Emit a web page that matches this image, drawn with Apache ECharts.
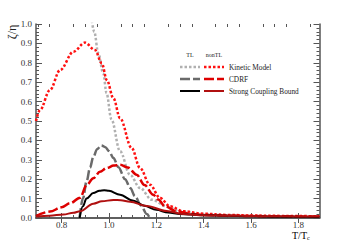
<!DOCTYPE html>
<html><head><meta charset="utf-8">
<script src="https://cdn.jsdelivr.net/npm/echarts@6/dist/echarts.min.js"></script>
<style>html,body{margin:0;padding:0;background:#fff}#c{width:355px;height:243px}</style>
</head><body><div id="c"></div>
<script>
// ---- data (T/Tc, zeta/eta) ----
const kineticTL = [[0.925,1.04],[0.938,0.96],[0.955,0.849],[0.976,0.746],[0.99,0.643],[1.01,0.51],[1.047,0.344],[1.089,0.223],[1.131,0.155],[1.181,0.094],[1.244,0.06],[1.3,0.034],[1.4,0.02],[1.5,0.014],[1.6,0.011],[1.7,0.009],[1.8,0.008],[1.889,0.007]];
const kineticNonTL = [[0.692,0.5],[0.709,0.557],[0.751,0.66],[0.794,0.763],[0.85,0.857],[0.899,0.904],[0.941,0.866],[0.970,0.797],[0.991,0.711],[1.019,0.617],[1.047,0.514],[1.096,0.361],[1.131,0.258],[1.173,0.172],[1.216,0.103],[1.258,0.06],[1.314,0.035],[1.4,0.022],[1.5,0.016],[1.6,0.013],[1.7,0.011],[1.8,0.01],[1.889,0.009]];
const cdrfTL = [[0.876,0],[0.89,0.1],[0.906,0.19],[0.92,0.26],[0.934,0.315],[0.95,0.355],[0.968,0.374],[0.985,0.365],[1.0,0.345],[1.019,0.309],[1.04,0.262],[1.068,0.2],[1.09,0.155],[1.11,0.112],[1.135,0.065],[1.16,0.02],[1.172,0]];
const cdrfNonTL = [[0.692,0.01],[0.751,0.033],[0.8,0.055],[0.836,0.076],[0.878,0.105],[0.906,0.17],[0.934,0.205],[0.962,0.238],[0.991,0.258],[1.02,0.27],[1.047,0.275],[1.08,0.26],[1.117,0.223],[1.15,0.17],[1.187,0.12],[1.208,0.095],[1.237,0.06],[1.286,0.034],[1.35,0.02],[1.4,0.016],[1.5,0.012],[1.6,0.01],[1.7,0.009],[1.8,0.008],[1.889,0.008]];
const strongTL = [[0.876,0],[0.89,0.06],[0.905,0.1],[0.934,0.129],[0.96,0.141],[0.98,0.143],[1.0,0.14],[1.047,0.12],[1.1,0.09],[1.15,0.063],[1.2,0.042],[1.25,0.028],[1.3,0.021],[1.4,0.014],[1.5,0.011],[1.6,0.009],[1.7,0.007],[1.8,0.006],[1.889,0.005]];
const strongNonTL = [[0.692,0.008],[0.75,0.012],[0.808,0.018],[0.85,0.027],[0.878,0.035],[0.934,0.074],[0.97,0.086],[1.019,0.093],[1.05,0.092],[1.089,0.084],[1.16,0.062],[1.244,0.036],[1.314,0.02],[1.4,0.014],[1.5,0.012],[1.6,0.01],[1.7,0.009],[1.8,0.008],[1.889,0.008]];
const xMajorTicks = [0.8,1.0,1.2,1.4,1.6,1.8];
const xMinorTicks = [0.7,0.75,0.85,0.9,0.95,1.05,1.1,1.15,1.25,1.3,1.35,1.45,1.5,1.55,1.65,1.7,1.75,1.85];
const legendRows = ['Kinetic Model','CDRF','Strong Coupling Bound'];
const legendHeads = ['TL','nonTL'];

const FONT = 'Liberation Serif';
const AX = '#555';
const XMIN = 0.692, XMAX = 1.889;
const grid = {left:36, right:35.5, top:24, bottom:25};

function xAx(gridIndex, position, ticks, len, labels){
  return {type:'value', gridIndex, position, min:XMIN, max:XMAX,
    axisLine:{show:gridIndex===0, lineStyle:{color:AX,width:1.5}},
    axisTick:{show:true, inside:true, length:len, customValues:ticks, lineStyle:{color:AX,width:1}},
    axisLabel:{show:labels, customValues:ticks, margin:2, fontFamily:FONT, fontSize:9, color:'#333',
      formatter:v=>v.toFixed(1)},
    splitLine:{show:false}};
}
function yAx(position, labels){
  return {type:'value', gridIndex:0, position, min:0, max:1, interval:0.1,
    axisLine:{show:true, lineStyle:{color:AX,width:1.5}},
    axisTick:{show:true, inside:true, length:6, lineStyle:{color:AX,width:1}},
    minorTick:{show:true, splitNumber:5, length:3, lineStyle:{color:AX,width:1}},
    axisLabel:{show:labels, margin:4, fontFamily:FONT, fontSize:9, color:'#333', formatter:v=>v.toFixed(1)},
    splitLine:{show:false}, minorSplitLine:{show:false}};
}
function ser(name, data, color, width, type){
  return {name, type:'line', xAxisIndex:0, yAxisIndex:0, data, showSymbol:false, smooth:0.35,
    smoothMonotone:'x', clip:true, lineStyle:{color, width, type}, z:3};
}

const legendX = [190, 214];
const rowsY = [67, 79, 91];
const styles = [
  [{c:'#b0b0b0',w:2.5,d:[2.5,2]},{c:'#ff1010',w:2.5,d:[2.5,2]}],
  [{c:'#6a6a6a',w:2.5,d:[10,3]},{c:'#dd0000',w:2.5,d:[10,3]}],
  [{c:'#000',w:2,d:null},{c:'#b01010',w:2,d:null}]
];
const graphics = [];
legendHeads.forEach((h,i)=>graphics.push({type:'text', x:legendX[i], y:55,
  style:{text:h, font:'6px '+FONT, fill:'#222', textAlign:'center', textVerticalAlign:'middle'}}));
legendRows.forEach((t,r)=>{
  styles[r].forEach((s,i)=>graphics.push({type:'line', shape:{x1:legendX[i]-10, y1:rowsY[r], x2:legendX[i]+10, y2:rowsY[r]},
    style:{stroke:s.c, lineWidth:s.w, lineDash:s.d}}));
  graphics.push({type:'text', x:229, y:rowsY[r], style:{text:t, font:'7.3px '+FONT, fill:'#222', textVerticalAlign:'middle'}});
});
graphics.push({type:'text', x:12, y:32, rotation:Math.PI/2,
  style:{text:'ζ/η', font:'12px '+FONT, fill:'#222', textAlign:'center', textVerticalAlign:'middle'}});
graphics.push({type:'text', x:292, y:235,
  style:{text:'{a|T/T}{s|c}', rich:{a:{fontFamily:FONT,fontSize:10,color:'#222'},s:{fontFamily:FONT,fontSize:6,color:'#222',padding:[6,0,0,0]}}, textVerticalAlign:'middle'}});

const chart = echarts.init(document.getElementById('c'), null, {renderer:'svg'});
chart.setOption({
  animation:false,
  grid:[grid, Object.assign({}, grid)],
  xAxis:[
    xAx(0,'bottom',xMajorTicks,5,true),
    xAx(0,'top',xMajorTicks,5,false),
    xAx(1,'bottom',xMinorTicks,3,false),
    xAx(1,'top',xMinorTicks,3,false)
  ],
  yAxis:[yAx('left',true), yAx('right',false), {type:'value', gridIndex:1, show:false, min:0, max:1}],
  series:[
    ser('Kinetic Model TL', kineticTL, '#b0b0b0', 2.5, [2.5,2]),
    ser('Kinetic Model nonTL', kineticNonTL, '#ff1010', 2.5, [2.5,2]),
    ser('CDRF TL', cdrfTL, '#6a6a6a', 2.5, [10,3]),
    ser('CDRF nonTL', cdrfNonTL, '#dd0000', 2.5, [10,3]),
    ser('Strong Coupling Bound TL', strongTL, '#000000', 2, 'solid'),
    ser('Strong Coupling Bound nonTL', strongNonTL, '#b01010', 2, 'solid')
  ],
  graphic:graphics
});
</script></body></html>
